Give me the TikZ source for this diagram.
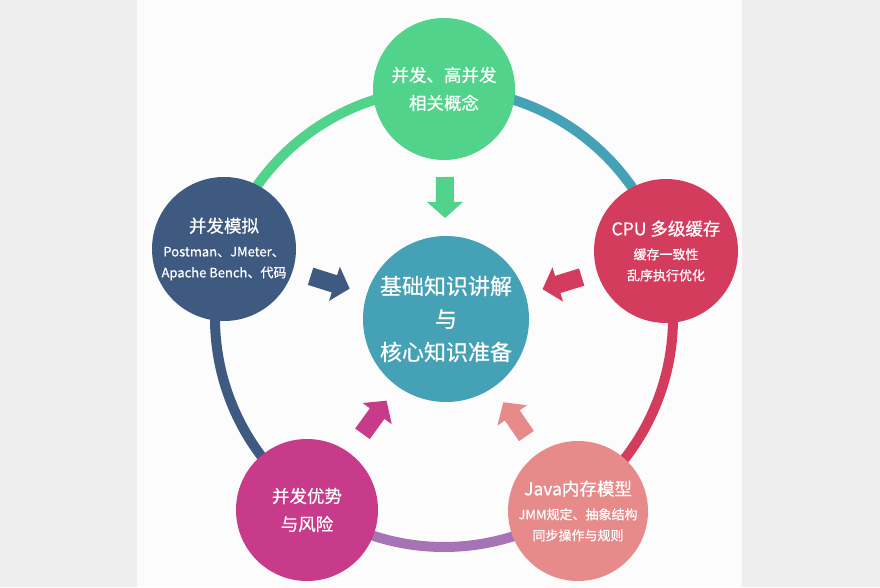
\documentclass[tikz,border=0pt]{standalone}
\usepackage{fontspec}
\newfontfamily\cjk[FakeBold = 0.6]{Noto Sans CJK SC}
\usetikzlibrary{calc, arrows.meta}

\definecolor{sidegray}{HTML}{EEEEEE}
\definecolor{panel}{HTML}{FCFCFC}
\definecolor{mint}{HTML}{52D38C}
\definecolor{teal}{HTML}{45A1B5}
\definecolor{navy}{HTML}{3E5A80}
\definecolor{crimson}{HTML}{D43C5E}
\definecolor{magenta}{HTML}{C83B8B}
\definecolor{salmon}{HTML}{E78A8A}
\definecolor{lilac}{HTML}{A674B6}

\tikzset{
    topic/.style = {circle, inner sep = 0pt, text = white, align = center,
        font = \cjk\fontsize{17.5}{28}\selectfont},
    ringarc/.style = {line width = 10pt},
    push/.style = {line width = 18pt, -{Triangle[width = 35pt, length = 16pt]}},
}
\newcommand{\subline}{\fontsize{13}{21}\selectfont}

\begin{document}
\begin{tikzpicture}[x = 1pt, y = 1pt]

        % Page size, grey sides and the white panel.
        \useasboundingbox (0, 0) rectangle (880, 587);
        \fill [sidegray] (0, 0) rectangle (880, 587);
        \fill [panel] (137, 0) rectangle (742, 587);

        % Centre of the ring.
        \coordinate (R) at (444, 269);

        % Draw the ring, one colour between each pair of topics.
        \foreach \from/\to/\col in {90/162/mint, 18/90/teal, -54/18/crimson,
                234/306/lilac, 162/234/navy}
            \draw [ringarc, \col] (R) ++(\from:229)
                arc [start angle = \from, end angle = \to, radius = 229];

        % The centre topic.
        \node (core) at (446, 268) [topic, fill = teal, minimum size = 166pt,
            font = \cjk\fontsize{22}{33}\selectfont]
            {基础知识讲解\\与\\核心知识准备};

        % The five topics round the ring.
        \node (concept) at (444, 498) [topic, fill = mint, minimum size = 142pt]
            {并发、高并发\\相关概念};
        \node (cache) at (666, 336) [topic, fill = crimson, minimum size = 144pt]
            {CPU 多级缓存\\[-4pt]\subline 缓存一致性\\[-7pt]\subline 乱序执行优化};
        \node (jmm) at (578, 76) [topic, fill = salmon, minimum size = 140pt]
            {Java内存模型\\[-4pt]\subline JMM规定、抽象结构\\[-7pt]\subline 同步操作与规则};
        \node (risk) at (307, 77) [topic, fill = magenta, minimum size = 142pt]
            {并发优势\\与风险};
        \node (mock) at (224, 338) [topic, fill = navy, minimum size = 144pt]
            {并发模拟\\[-4pt]\subline Postman、JMeter、\\[-7pt]\subline Apache Bench、代码};

        % Arrows from each topic into the centre.
        \draw [push, mint] ($(core)!142pt!(concept)$) to ($(core)!101pt!(concept)$);
        \draw [push, crimson] ($(core)!142pt!(cache)$) to ($(core)!101pt!(cache)$);
        \draw [push, salmon] ($(core)!142pt!(jmm)$) to ($(core)!101pt!(jmm)$);
        \draw [push, magenta] ($(core)!142pt!(risk)$) to ($(core)!101pt!(risk)$);
        \draw [push, navy] ($(core)!142pt!(mock)$) to ($(core)!101pt!(mock)$);
    \end{tikzpicture}
\end{document}
